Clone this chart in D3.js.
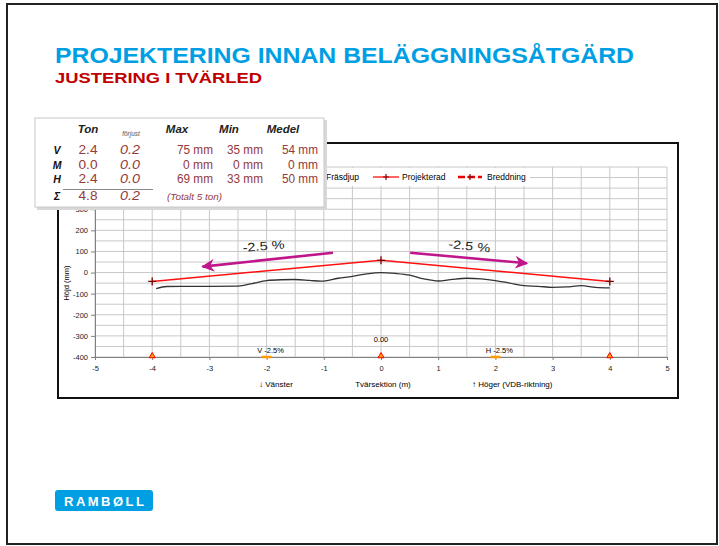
<!DOCTYPE html>
<html>
<head>
<meta charset="utf-8">
<script src="https://cdn.jsdelivr.net/npm/d3@7"></script>
<style>
  body { margin: 0; background: #fff; }
  svg { display: block; }
  text { font-family: "Liberation Sans", Arial, sans-serif; }
</style>
</head>
<body>
<svg id="slide"></svg>
<script>
// ---- data ----
const profileX = [-3.93, -3.75, -3.5, -3.0, -2.5, -2.25, -2.0, -1.75, -1.5, -1.25, -1.05, -0.75, -0.5, -0.25, 0, 0.25, 0.5, 0.75, 1.0, 1.25, 1.5, 1.75, 2.0, 2.25, 2.5, 2.75, 3.0, 3.25, 3.5, 3.75, 4.0];
const profileY = [-76, -66, -65, -65, -64, -52, -38, -34, -33, -37, -41, -27, -18, -6, 0, -4, -12, -30, -40, -32, -27, -30, -38, -50, -62, -65, -70, -68, -62, -70, -73];
const projX = [-4, 0, 4];
const projY = [-42, 58, -42];
const pointX = [-4, 0, 4];
const slopeX = [-2, 2];
const slopeLabels = ["V -2.5%", "H -2.5%"];
const xTickValues = [-5, -4, -3, -2, -1, 0, 1, 2, 3, 4, 5];
const yTickValues = [-400, -300, -200, -100, 0, 100, 200, 300];
const legendLabels = ["Fräsdjup", "Projekterad", "Breddning"];
const arrowFrom = [[-0.84, 94], [0.51, 94]];
const arrowTo = [[-3.12, 28], [2.55, 44]];
const arrowLabels = ["-2.5 %", "-2.5 %"];

const rowLabels = ["V", "M", "H", "Σ"];
const tonValues = ["2.4", "0.0", "2.4", "4.8"];
const forjustValues = ["0.2", "0.0", "0.0", "0.2"];
const maxValues = ["75 mm", "0 mm", "69 mm"];
const minValues = ["35 mm", "0 mm", "33 mm"];
const medelValues = ["54 mm", "0 mm", "50 mm"];
const headers = ["Ton", "förjust", "Max", "Min", "Medel"];

const width = 719, height = 546;
const blue = "#009fe3", magenta = "#c0168c", valRed = "#933a3a";

const svg = d3.select("#slide")
    .attr("width", width)
    .attr("height", height);

// slide frame
svg.append("rect")
    .attr("x", 7).attr("y", 4)
    .attr("width", 710).attr("height", 540)
    .attr("fill", "#fff")
    .attr("stroke", "#222")
    .attr("stroke-width", 2);

// titles
svg.append("text")
    .attr("x", 55).attr("y", 63)
    .attr("textLength", 579)
    .attr("lengthAdjust", "spacingAndGlyphs")
    .style("font-size", "22px").style("font-weight", "bold")
    .attr("fill", blue)
    .text("PROJEKTERING INNAN BELÄGGNINGSÅTGÄRD");

svg.append("text")
    .attr("x", 55).attr("y", 83)
    .attr("textLength", 207)
    .attr("lengthAdjust", "spacingAndGlyphs")
    .style("font-size", "15px").style("font-weight", "bold")
    .attr("fill", "#c00000")
    .text("JUSTERING I TVÄRLED");

// chart frame
svg.append("rect")
    .attr("x", 58).attr("y", 143)
    .attr("width", 620).attr("height", 255)
    .attr("fill", "#fff")
    .attr("stroke", "#111")
    .attr("stroke-width", 2);

let x = d3.scaleLinear().domain([-5, 5]).range([95, 667]);
let y = d3.scaleLinear().domain([-400, 500]).range([357, 167]);

// grid
let grid = svg.append("g").attr("stroke", "#c8c8c8").attr("stroke-width", 1);
grid.selectAll(".gx")
    .data(d3.range(-5, 5.01, 0.5))
    .join("line")
    .attr("x1", d => x(d)).attr("x2", d => x(d))
    .attr("y1", y(-400)).attr("y2", y(500));
grid.selectAll(".gy")
    .data(d3.range(-400, 501, 50))
    .join("line")
    .attr("x1", x(-5)).attr("x2", x(5))
    .attr("y1", d => y(d)).attr("y2", d => y(d));

// axes
let xAxis = svg.append("g")
    .attr("transform", `translate(0,${y(-400)})`)
    .call(d3.axisBottom(x).tickValues(xTickValues).tickFormat(d => String(d)).tickSize(3).tickPadding(6));
let yAxis = svg.append("g")
    .attr("transform", `translate(${x(-5)},0)`)
    .call(d3.axisLeft(y).tickValues(yTickValues).tickFormat(d => String(d)).tickSize(4).tickPadding(3));
[xAxis, yAxis].forEach(a => {
    a.selectAll("path, line").attr("stroke", "#808080");
    a.selectAll("text").style("font-size", "7.5px").attr("fill", "#222")
        .style("font-family", '"Liberation Sans", Arial, sans-serif');
});

// axis titles
svg.append("text")
    .attr("transform", `translate(69,${y(-50)}) rotate(-90)`)
    .attr("text-anchor", "middle")
    .style("font-size", "7.5px")
    .text("Höjd (mm)");
svg.append("text")
    .attr("x", x(0) + 2).attr("y", 387)
    .attr("text-anchor", "middle")
    .style("font-size", "8px")
    .text("Tvärsektion (m)");
svg.append("text")
    .attr("x", 259).attr("y", 387)
    .style("font-size", "8px")
    .text("↓  Vänster");
svg.append("text")
    .attr("x", 472).attr("y", 387)
    .style("font-size", "8px")
    .text("↑  Höger (VDB-riktning)");

// legend
let legend = svg.append("g");
legend.append("rect")
    .attr("x", 200).attr("y", 168)
    .attr("width", 330).attr("height", 18)
    .attr("fill", "#fff");
legend.append("line")
    .attr("x1", 294).attr("x2", 320).attr("y1", 177).attr("y2", 177)
    .attr("stroke", "#333").attr("stroke-width", 1.3);
legend.append("line")
    .attr("x1", 373).attr("x2", 399).attr("y1", 177).attr("y2", 177)
    .attr("stroke", "#ff3030").attr("stroke-width", 1.5);
legend.append("line")
    .attr("x1", 458).attr("x2", 482).attr("y1", 177).attr("y2", 177)
    .attr("stroke", "#ee0000").attr("stroke-width", 2.5)
    .attr("stroke-dasharray", "7,3");
legend.selectAll(".lm")
    .data([386, 470])
    .join("path")
    .attr("d", d => `M${d - 3},177H${d + 3}M${d},174V180`)
    .attr("stroke", "#8b0000").attr("stroke-width", 1.2);
legend.selectAll(".lt")
    .data(legendLabels)
    .join("text")
    .attr("x", (d, i) => [326, 402, 487][i])
    .attr("y", 180)
    .style("font-size", "8.5px")
    .text(d => d);

// Fräsdjup profile
let line = d3.line().x(d => x(d[0])).y(d => y(d[1])).curve(d3.curveMonotoneX);
svg.append("path")
    .datum(profileX.map((d, i) => [d, profileY[i]]))
    .attr("fill", "none")
    .attr("stroke", "#333")
    .attr("stroke-width", 1.3)
    .attr("d", line);

// Projekterad
svg.append("path")
    .datum(projX.map((d, i) => [d, projY[i]]))
    .attr("fill", "none")
    .attr("stroke", "#ff1010")
    .attr("stroke-width", 1.5)
    .attr("d", d3.line().x(d => x(d[0])).y(d => y(d[1])));
svg.selectAll(".pm")
    .data(projX.map((d, i) => [d, projY[i]]))
    .join("path")
    .attr("d", d => `M${x(d[0]) - 4},${y(d[1])}H${x(d[0]) + 4}M${x(d[0])},${y(d[1]) - 4}V${y(d[1]) + 4}`)
    .attr("stroke", "#7a0000").attr("stroke-width", 1.3);

// bottom markers
svg.selectAll(".tri")
    .data(pointX)
    .join("path")
    .attr("transform", d => `translate(${x(d)},${y(-400) - 1})`)
    .attr("d", d3.symbol(d3.symbolTriangle, 16))
    .attr("fill", "#ffa500")
    .attr("stroke", "#ff0000")
    .attr("stroke-width", 1);
svg.selectAll(".sl")
    .data(slopeX)
    .join("line")
    .attr("x1", d => x(d) - 5).attr("x2", d => x(d) + 5)
    .attr("y1", y(-400)).attr("y2", y(-400))
    .attr("stroke", "#ff9900").attr("stroke-width", 2.5);
svg.selectAll(".slt")
    .data(slopeX)
    .join("text")
    .attr("x", d => x(d) + 4)
    .attr("y", y(-400) - 4)
    .attr("text-anchor", "middle")
    .style("font-size", "7.5px")
    .text((d, i) => slopeLabels[i]);
svg.append("text")
    .attr("x", x(0)).attr("y", 342)
    .attr("text-anchor", "middle")
    .style("font-size", "7.5px")
    .text("0.00");

// arrows
svg.append("defs").append("marker")
    .attr("id", "head")
    .attr("viewBox", "0 0 10 10")
    .attr("refX", 9).attr("refY", 5)
    .attr("markerWidth", 5).attr("markerHeight", 5)
    .attr("markerUnits", "strokeWidth")
    .attr("orient", "auto")
    .append("path")
    .attr("d", "M0,0L10,5L0,10L3,5Z")
    .attr("fill", magenta);
svg.selectAll(".arr")
    .data(arrowFrom)
    .join("line")
    .attr("x1", d => x(d[0])).attr("y1", d => y(d[1]))
    .attr("x2", (d, i) => x(arrowTo[i][0])).attr("y2", (d, i) => y(arrowTo[i][1]))
    .attr("stroke", magenta)
    .attr("stroke-width", 2.6)
    .attr("marker-end", "url(#head)");
svg.selectAll(".arrt")
    .data(arrowLabels)
    .join("text")
    .attr("transform", (d, i) => i == 0 ? "translate(243,252) rotate(-5)" : "translate(448,248) rotate(6)")
    .attr("textLength", 42)
    .attr("lengthAdjust", "spacingAndGlyphs")
    .style("font-size", "12px")
    .attr("fill", "#222")
    .text(d => d);

// table box
let tbl = svg.append("g");
tbl.append("rect")
    .attr("x", 37).attr("y", 120)
    .attr("width", 290).attr("height", 90)
    .attr("fill", "#d8d8d8");
tbl.append("rect")
    .attr("x", 35).attr("y", 118)
    .attr("width", 289).attr("height", 89)
    .attr("fill", "#fff")
    .attr("stroke", "#c8c8c8");

let headX = [88, 131, 177, 229, 283];
tbl.selectAll(".th")
    .data(headers)
    .join("text")
    .attr("x", (d, i) => headX[i])
    .attr("y", (d, i) => i == 1 ? 136 : 132.5)
    .attr("text-anchor", "middle")
    .style("font-size", (d, i) => i == 1 ? "6.5px" : "11.5px")
    .style("font-weight", (d, i) => i == 1 ? "normal" : "bold")
    .style("font-style", "italic")
    .attr("fill", (d, i) => i == 1 ? "#555" : "#222")
    .text(d => d);

let rowY = [154, 168.5, 183, 199.5];
tbl.selectAll(".rl")
    .data(rowLabels)
    .join("text")
    .attr("x", 57).attr("y", (d, i) => rowY[i])
    .attr("text-anchor", "middle")
    .style("font-size", "10.5px").style("font-weight", "bold").style("font-style", "italic")
    .attr("fill", "#111")
    .text(d => d);
tbl.selectAll(".ton")
    .data(tonValues)
    .join("text")
    .attr("x", 88).attr("y", (d, i) => rowY[i])
    .attr("text-anchor", "middle")
    .attr("textLength", 19).attr("lengthAdjust", "spacingAndGlyphs")
    .style("font-size", "12.5px")
    .attr("fill", valRed)
    .text(d => d);
tbl.selectAll(".fj")
    .data(forjustValues)
    .join("text")
    .attr("x", 130).attr("y", (d, i) => rowY[i])
    .attr("text-anchor", "middle")
    .attr("textLength", 20).attr("lengthAdjust", "spacingAndGlyphs")
    .style("font-size", "12.5px").style("font-style", "italic")
    .attr("fill", valRed)
    .text(d => d);
[[maxValues, 213], [minValues, 263], [medelValues, 318]].forEach(([vals, xr]) => {
    tbl.selectAll(null)
        .data(vals)
        .join("text")
        .attr("x", d => xr - (d.length == 5 ? 36 : 30))
        .attr("y", (d, i) => rowY[i])
        .attr("textLength", d => d.length == 5 ? 36 : 30)
        .attr("lengthAdjust", "spacingAndGlyphs")
        .style("font-size", "12.5px")
        .attr("fill", valRed)
        .text(d => d);
});
tbl.append("line")
    .attr("x1", 63).attr("x2", 153).attr("y1", 189.5).attr("y2", 189.5)
    .attr("stroke", "#888");
tbl.append("text")
    .attr("x", 167).attr("y", 199.5)
    .attr("textLength", 55).attr("lengthAdjust", "spacingAndGlyphs")
    .style("font-size", "9px").style("font-style", "italic")
    .attr("fill", valRed)
    .text("(Totalt 5 ton)");

// logo
let logo = svg.append("g");
logo.append("rect")
    .attr("x", 55).attr("y", 490)
    .attr("width", 98).attr("height", 21)
    .attr("rx", 3)
    .attr("fill", blue);
logo.append("text")
    .attr("x", 104).attr("y", 505.5)
    .attr("text-anchor", "middle")
    .attr("textLength", 80).attr("lengthAdjust", "spacing")
    .style("font-size", "13px").style("font-weight", "bold")
    .attr("fill", "#fff")
    .text("RAMBØLL");
</script>
</body>
</html>
